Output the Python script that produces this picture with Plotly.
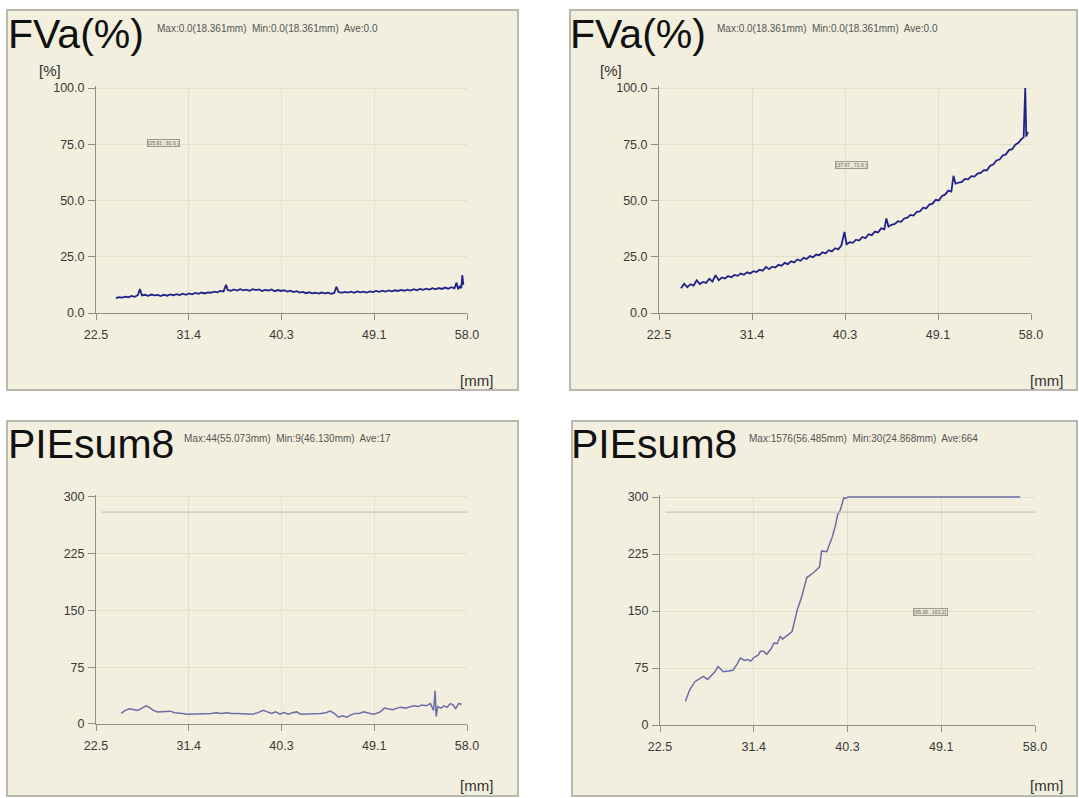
import plotly.graph_objects as go

W, H = 1079, 798

# ---------------- data ----------------
x_ticks = [22.5, 31.375, 40.25, 49.125, 58.0]
x_tick_labels = ["22.5", "31.4", "40.3", "49.1", "58.0"]
fva_ticks = [0, 25, 50, 75, 100]
fva_tick_labels = ["0.0", "25.0", "50.0", "75.0", "100.0"]
pie_ticks = [0, 75, 150, 225, 300]
pie_tick_labels = ["0", "75", "150", "225", "300"]
pie_threshold = 280

titles = ["FVa(%)", "FVa(%)", "PIEsum8", "PIEsum8"]
stats = [
    "Max:0.0(18.361mm)  Min:0.0(18.361mm)  Ave:0.0",
    "Max:0.0(18.361mm)  Min:0.0(18.361mm)  Ave:0.0",
    "Max:44(55.073mm)  Min:9(46.130mm)  Ave:17",
    "Max:1576(56.485mm)  Min:30(24.868mm)  Ave:664",
]
cursor_labels = ["[25.91 , 81.6 ]", "[37.97 , 71.6 ]", "[65.38 , 163.2]"]

fva_left_x = [24.4, 24.7, 25.0, 25.3, 25.6, 25.9, 26.2, 26.5, 26.7, 26.9, 27.2, 27.5, 27.8, 28.1,
              28.4, 28.7, 29.0, 29.3, 29.6, 29.9, 30.2, 30.5, 30.8, 31.1, 31.4, 31.7, 32.0, 32.3,
              32.6, 32.9, 33.2, 33.5, 33.8, 34.1, 34.4, 34.7, 34.95, 35.1, 35.4, 35.7, 36.0, 36.3,
              36.6, 36.9, 37.2, 37.5, 37.8, 38.1, 38.4, 38.7, 39.0, 39.3, 39.6, 39.9, 40.2, 40.5,
              40.8, 41.1, 41.4, 41.7, 42.0, 42.3, 42.6, 42.9, 43.2, 43.5, 43.8, 44.1, 44.4, 44.7,
              45.0, 45.3, 45.5, 45.7, 46.0, 46.3, 46.6, 46.9, 47.2, 47.5, 47.8, 48.1, 48.4, 48.7,
              49.0, 49.3, 49.6, 49.9, 50.2, 50.5, 50.8, 51.1, 51.4, 51.7, 52.0, 52.3, 52.6, 52.9,
              53.2, 53.5, 53.8, 54.1, 54.4, 54.7, 55.0, 55.3, 55.6, 55.9, 56.2, 56.5, 56.8, 57.0,
              57.15, 57.3, 57.45, 57.55, 57.65]
fva_left_y = [6.6, 7.0, 6.8, 7.3, 7.0, 7.6, 7.2, 7.9, 10.6, 7.8, 8.1, 7.6, 8.2, 7.8,
              8.0, 7.5, 8.1, 7.7, 8.3, 7.9, 8.4, 8.0, 8.6, 8.1, 8.7, 8.3, 8.9, 8.5,
              9.1, 8.7, 9.2, 9.0, 9.5, 9.2, 9.8, 9.6, 12.5, 10.2, 9.9, 10.5, 10.0, 10.6,
              10.1, 10.4, 9.9, 10.6, 10.2, 10.5, 9.8, 10.3, 10.0, 10.5, 9.7, 10.2, 9.8, 10.1,
              9.5, 9.9, 9.3, 9.7, 9.1, 9.4, 8.8, 9.2, 8.7, 9.0, 8.6, 9.1, 8.7, 9.0,
              8.5, 8.9, 11.7, 9.3, 9.0, 9.4, 9.1, 9.5, 9.0, 9.6, 9.2, 9.5, 9.1, 9.6,
              9.3, 9.8, 9.4, 9.9, 9.5, 10.0, 9.6, 10.1, 9.8, 10.3, 9.9, 10.4, 10.0, 10.6,
              10.1, 10.7, 10.3, 10.8, 10.4, 11.0, 10.5, 11.1, 10.7, 11.3, 10.8, 11.5, 11.0, 13.5,
              10.5, 12.0, 11.0, 16.8, 12.5]

fva_right_x = [24.6, 24.9, 25.2, 25.5, 25.8, 26.1, 26.4, 26.7, 27.0, 27.3, 27.6, 27.9, 28.2, 28.5,
               28.8, 29.1, 29.4, 29.7, 30.0, 30.3, 30.6, 30.9, 31.2, 31.5, 31.8, 32.1, 32.4, 32.7,
               33.0, 33.3, 33.6, 33.9, 34.2, 34.5, 34.8, 35.1, 35.4, 35.7, 36.0, 36.3, 36.6, 36.9,
               37.2, 37.5, 37.8, 38.1, 38.4, 38.7, 39.0, 39.3, 39.6, 39.9, 40.2, 40.4, 40.7, 41.0,
               41.3, 41.6, 41.9, 42.2, 42.5, 42.8, 43.1, 43.4, 43.7, 44.0, 44.2, 44.4, 44.7, 45.0,
               45.3, 45.6, 45.9, 46.2, 46.5, 46.8, 47.1, 47.4, 47.7, 48.0, 48.3, 48.6, 48.9, 49.2,
               49.5, 49.8, 50.1, 50.4, 50.6, 50.8, 51.1, 51.4, 51.7, 52.0, 52.3, 52.6, 52.9, 53.2,
               53.5, 53.8, 54.1, 54.4, 54.7, 55.0, 55.3, 55.6, 55.9, 56.2, 56.5, 56.8, 57.1, 57.3,
               57.45, 57.55, 57.7]
fva_right_y = [11.0, 13.0, 11.5, 12.8, 12.2, 14.5, 12.9, 13.8, 13.4, 15.2, 14.0, 16.8, 14.6, 15.8,
               15.3, 16.4, 15.9, 16.9, 16.5, 17.5, 17.0, 18.1, 17.6, 18.6, 18.2, 19.2, 18.8, 20.5,
               19.5, 20.6, 20.2, 21.4, 21.0, 22.3, 21.7, 23.0, 22.5, 23.8, 23.2, 24.5, 24.0, 25.3,
               24.8, 26.0, 25.7, 27.0, 26.5, 27.9, 27.4, 28.8, 28.3, 30.0, 36.0, 30.6, 31.5, 31.2,
               32.6, 32.2, 33.8, 33.3, 35.0, 34.6, 36.2, 35.8, 37.6, 37.2, 42.0, 38.4, 39.2, 39.6,
               40.8, 40.5, 42.0, 42.4, 43.6, 43.3, 45.0, 45.2, 46.8, 46.5, 48.2, 48.6, 50.3, 50.0,
               52.0, 52.6, 54.4, 54.0, 61.0, 57.5, 58.0, 58.3, 59.6, 59.4, 60.8, 60.6, 62.0, 62.3,
               63.5, 63.4, 65.5, 66.0, 67.8, 68.2, 70.0, 70.5, 72.4, 72.8, 74.8, 75.6, 77.4, 78.0,
               100.0, 78.5, 80.5]

pie_left_x = [24.9, 25.3, 25.7, 26.1, 26.5, 26.9, 27.3, 27.6, 28.0, 28.4, 28.8, 29.2, 29.6, 30.0,
              30.4, 30.8, 31.2, 31.6, 32.0, 32.5, 33.0, 33.5, 34.0, 34.5, 35.0, 35.5, 36.0, 36.5,
              37.0, 37.5, 38.0, 38.5, 38.9, 39.3, 39.7, 40.1, 40.5, 40.9, 41.3, 41.7, 42.1, 42.5,
              43.0, 43.5, 44.0, 44.5, 44.9, 45.3, 45.7, 46.1, 46.5, 46.9, 47.3, 47.7, 48.1, 48.5,
              48.9, 49.3, 49.7, 50.1, 50.5, 50.9, 51.3, 51.7, 52.1, 52.5, 52.9, 53.3, 53.7, 54.1,
              54.5, 54.8, 54.95, 55.05, 55.2, 55.5, 55.8, 56.1, 56.4, 56.7, 56.9, 57.2, 57.5]
pie_left_y = [14, 18, 20, 19, 18, 21, 24, 22, 18, 16, 16, 17, 17, 15,
              14, 14, 13, 13, 13, 13, 13, 14, 15, 14, 15, 14, 14, 14,
              14, 13, 15, 18, 16, 14, 16, 13, 15, 13, 15, 16, 13, 13,
              13, 13, 14, 15, 17, 14, 9, 11, 9, 12, 14, 14, 16, 15,
              13, 14, 16, 21, 20, 19, 21, 22, 21, 23, 24, 23, 25, 24,
              27, 18, 44, 10, 23, 21, 24, 22, 27, 25, 20, 27, 26]

pie_right_x = [24.9, 25.3, 25.8, 26.3, 26.6, 27.0, 27.4, 27.7, 28.0, 28.5, 29.0, 29.4, 29.8, 30.1,
               30.5, 30.8, 31.1, 31.4, 31.8, 32.0, 32.3, 32.6, 33.0, 33.3, 33.6, 33.9, 34.1, 34.5,
               35.0, 35.3, 35.5, 35.9, 36.4, 37.0, 37.6, 37.8, 38.3, 38.6, 38.8, 39.1, 39.3, 39.6,
               39.9, 40.1, 40.3, 56.6]
pie_right_y = [31, 46, 57, 62, 64, 60, 66, 70, 77, 70, 71, 72, 80, 88,
               85, 86, 84, 89, 92, 97, 97, 93, 100, 108, 107, 117, 113, 118,
               123, 140, 152, 168, 194, 200, 208, 229, 228, 240, 247, 262, 276, 284,
               299, 298, 300, 300]

# ---------------- styling ----------------
BG = "#F2EFDE"
GRID = "#E3DFCA"
AX = "#8E8E8A"
BORDER = "#B9B8AE"
TXT = "#3A3A3A"
FVA_COLOR = "#22228A"
PIE_COLOR = "#6C6CA8"
FONT = "Liberation Sans, Arial, sans-serif"


def px(x):
    return x / W


def py(y):
    return 1 - y / H


# panels (left, top, right, bottom) in pixels
panels = [(7, 10, 518, 390), (570, 10, 1077, 390), (7, 421, 518, 796), (572, 421, 1077, 796)]

# plot areas: x pixel of 22.5 and 58.0, y pixel of 0 and of top tick, top tick value, range top
plots = [
    (96, 467, 313, 88, 100, 101),
    (659, 1031, 313, 88, 100, 101),
    (96, 467, 724, 497, 300, 302.5),
    (660, 1035, 725, 497, 300, 302.5),
]

fig = go.Figure()

series = [
    (fva_left_x, fva_left_y, FVA_COLOR, 1.8),
    (fva_right_x, fva_right_y, FVA_COLOR, 1.8),
    (pie_left_x, pie_left_y, PIE_COLOR, 1.5),
    (pie_right_x, pie_right_y, PIE_COLOR, 1.5),
]

layout_axes = {}
for i, ((x0p, x1p, y0p, ytp, ytop, yr), (sx, sy, col, lw)) in enumerate(zip(plots, series)):
    n = "" if i == 0 else str(i + 1)
    ppu = (y0p - ytp) / ytop
    y_top_px = y0p - yr * ppu
    is_fva = i < 2
    layout_axes["xaxis" + n] = dict(
        domain=[px(x0p), px(x1p)], anchor="y" + n, range=[22.5, 58.0], automargin=False,
        tickmode="array", tickvals=x_ticks, ticktext=x_tick_labels,
        showline=True, linecolor=AX, linewidth=1, ticks="outside", ticklen=6, tickcolor=AX,
        showgrid=True, gridcolor=GRID, gridwidth=1, zeroline=False,
        tickfont=dict(family=FONT, size=12.5, color=TXT), ticklabelstandoff=4,
    )
    layout_axes["yaxis" + n] = dict(
        domain=[py(y0p), py(y_top_px)], anchor="x" + n, range=[0, yr], automargin=False,
        tickmode="array", tickvals=fva_ticks if is_fva else pie_ticks,
        ticktext=fva_tick_labels if is_fva else pie_tick_labels,
        showline=True, linecolor=AX, linewidth=1, ticks="outside", ticklen=7, tickcolor=AX,
        showgrid=True, gridcolor=GRID, gridwidth=1, zeroline=False,
        tickfont=dict(family=FONT, size=12.5, color=TXT), ticklabelstandoff=1,
    )
    fig.add_trace(go.Scatter(
        x=sx, y=sy, mode="lines", line=dict(color=col, width=lw),
        xaxis="x" + n, yaxis="y" + n, showlegend=False, hoverinfo="x+y",
    ))

shapes = []
for (l, t, r, b) in panels:
    shapes.append(dict(type="rect", xref="paper", yref="paper", x0=px(l), x1=px(r), y0=py(b), y1=py(t),
                       fillcolor=BG, line=dict(color=BORDER, width=2), layer="below"))
# threshold lines on PIEsum8 plots
for n in ["3", "4"]:
    shapes.append(dict(type="line", xref="x" + n + " domain", yref="y" + n, x0=0.015, x1=1.0,
                       y0=pie_threshold, y1=pie_threshold, line=dict(color="#C9C6B4", width=1.2)))

annotations = []
title_pos = [(6, 34), (568, 34), (6, 444), (569, 444)]
stats_pos = [(155, 29), (715, 29), (182, 438), (747, 438)]
for (tx, ty), (sx_, sy_), t, s in zip(title_pos, stats_pos, titles, stats):
    annotations.append(dict(text=t, x=px(tx), y=py(ty), xref="paper", yref="paper", xanchor="left",
                            yanchor="middle", showarrow=False, font=dict(family=FONT, size=41, color="#111111")))
    annotations.append(dict(text=s, x=px(sx_), y=py(sy_), xref="paper", yref="paper", xanchor="left",
                            yanchor="middle", showarrow=False, font=dict(family=FONT, size=10, color="#555555")))

for (ux, uy) in [(50, 70), (611, 70)]:
    annotations.append(dict(text="[%]", x=px(ux), y=py(uy), xref="paper", yref="paper", xanchor="center",
                            yanchor="middle", showarrow=False, font=dict(family=FONT, size=15, color="#333333")))
for (ux, uy) in [(476, 380), (1046, 380), (476, 785), (1046, 785)]:
    annotations.append(dict(text="[mm]", x=px(ux), y=py(uy), xref="paper", yref="paper", xanchor="center",
                            yanchor="middle", showarrow=False, font=dict(family=FONT, size=15, color="#333333")))

for (cx, cy), c in zip([(163, 143), (851, 165), (930, 612)], cursor_labels):
    annotations.append(dict(text=c, x=px(cx), y=py(cy), xref="paper", yref="paper", xanchor="center",
                            yanchor="middle", showarrow=False, font=dict(family=FONT, size=5, color="#666666"),
                            bordercolor="#9A9A90", borderwidth=1, borderpad=0, bgcolor="#E8E5D2"))

fig.update_layout(
    width=W, height=H, margin=dict(l=0, r=0, t=0, b=0, autoexpand=False),
    paper_bgcolor="white", plot_bgcolor=BG,
    shapes=shapes, annotations=annotations, showlegend=False,
    **layout_axes,
)

fig.write_html("out.html", config={"displayModeBar": False},
               post_script="document.body.style.margin='0px';")
